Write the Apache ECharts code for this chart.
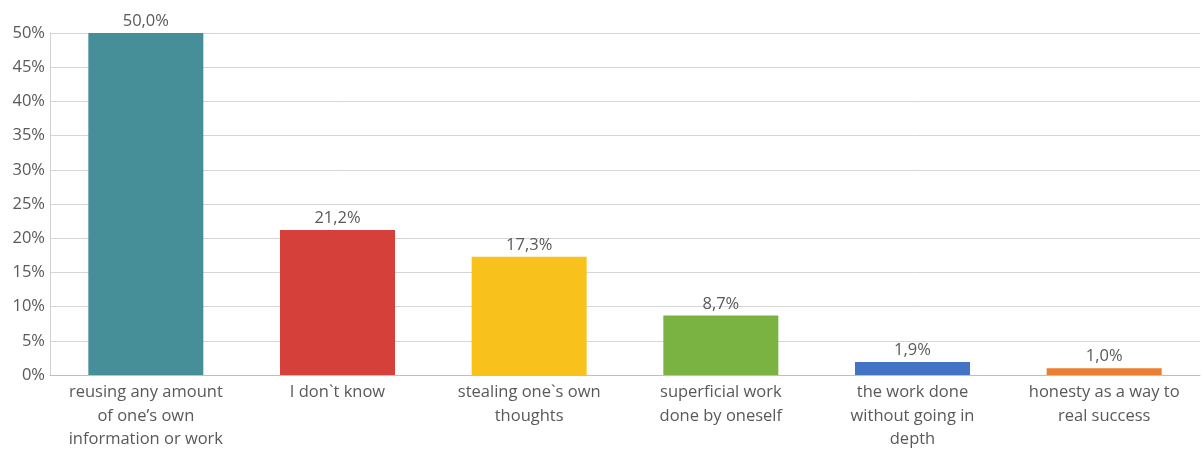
<!DOCTYPE html>
<html>
<head>
<meta charset="utf-8">
<script src="https://cdn.jsdelivr.net/npm/echarts@6/dist/echarts.min.js"></script>
<style>
  html, body { margin: 0; padding: 0; background: #fff; }
  #chart { width: 1203px; height: 454px; }
</style>
</head>
<body>
<div id="chart"></div>
<script>
// Answer categories (multi-line labels) and their shares in percent
const categories = [
  'reusing any amount\nof one\u2019s own\ninformation or work',
  'I don`t know',
  'stealing one`s own\nthoughts',
  'superficial work\ndone by oneself',
  'the work done\nwithout going in\ndepth',
  'honesty as a way to\nreal success'
];
const values = [50.0, 21.2, 17.3, 8.7, 1.9, 1.0];
const barColors = ['#468f99', '#d6403a', '#f9c11c', '#7bb342', '#4472c4', '#ed7d31'];
const yTicks = [0, 5, 10, 15, 20, 25, 30, 35, 40, 45, 50];

const font = '"Open Sans", "Noto Sans", sans-serif';
const textColor = '#595959';

const chart = echarts.init(document.getElementById('chart'));
chart.setOption({
  animation: false,
  grid: { left: 50, right: 3, top: 33, bottom: 79, containLabel: false },
  xAxis: {
    type: 'category',
    data: categories,
    axisLine: { show: true, lineStyle: { color: '#bfbfbf', width: 1 } },
    axisTick: { show: false },
    axisLabel: {
      interval: 0,
      color: textColor,
      fontFamily: font,
      fontSize: 16.5,
      lineHeight: 23.5,
      margin: 6
    }
  },
  yAxis: {
    type: 'value',
    min: yTicks[0],
    max: yTicks[yTicks.length - 1],
    interval: 5,
    axisLine: { show: true, lineStyle: { color: '#d0d0d0', width: 1 } },
    axisTick: { show: false },
    splitLine: { lineStyle: { color: '#d6d6d6', width: 1 } },
    axisLabel: {
      color: textColor,
      fontFamily: font,
      fontSize: 16.5,
      margin: 5,
      formatter: v => v + '%'
    }
  },
  series: [{
    type: 'bar',
    barWidth: '60%',
    data: values.map((v, i) => ({ value: v, itemStyle: { color: barColors[i] } })),
    label: {
      show: true,
      position: 'top',
      distance: 3,
      color: textColor,
      fontFamily: font,
      fontSize: 16.5,
      formatter: p => p.value.toFixed(1).replace('.', ',') + '%'
    }
  }]
});
</script>
</body>
</html>
